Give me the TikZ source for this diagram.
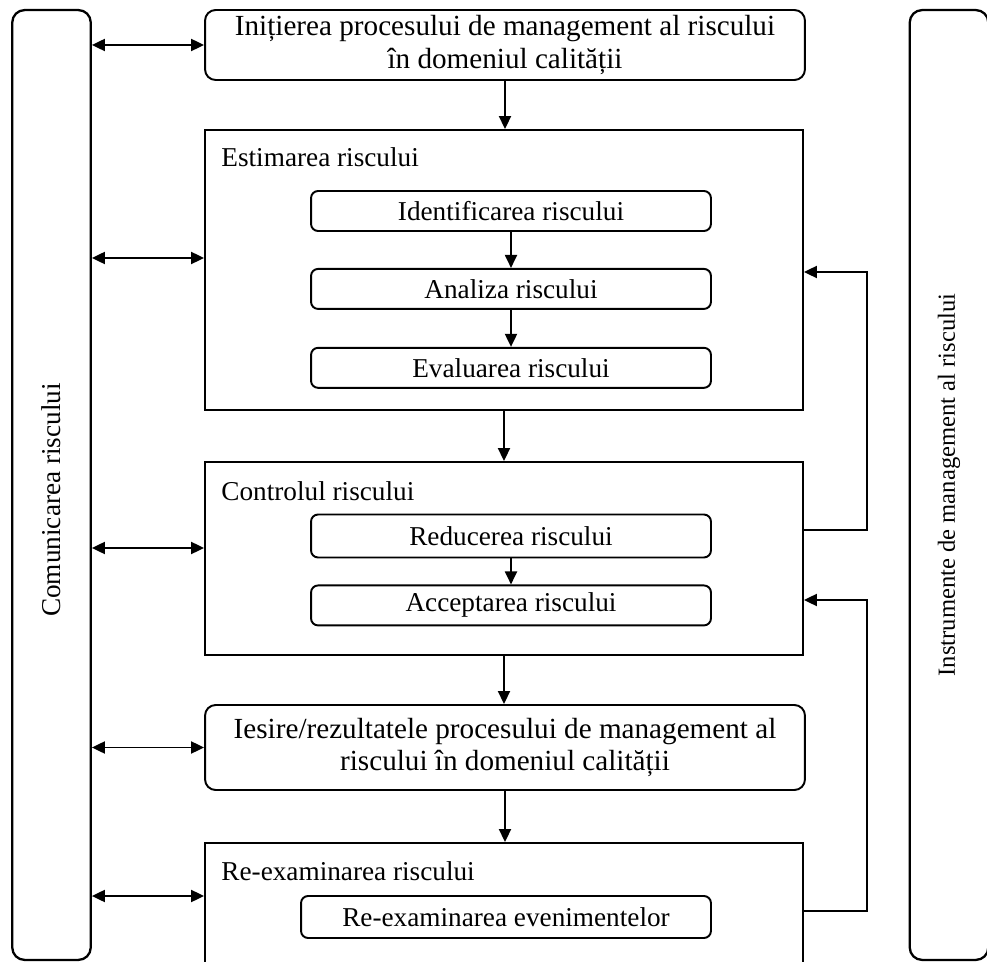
\documentclass[tikz,border=0pt]{standalone}
\usepackage{fontspec}
\setmainfont{Liberation Serif}
\usetikzlibrary{arrows.meta,positioning}

\tikzset{
  sidebar/.style={draw, line width=1.3pt, rounded corners=7pt, minimum width=1.57cm, minimum height=19cm},
  stagebox/.style={draw, line width=1.1pt, rounded corners=6pt, minimum width=12cm, align=center, inner sep=0pt,
    font=\fontsize{16.6}{18.5}\selectfont},
  panel/.style={draw, line width=1.1pt, minimum width=11.96cm},
  stepbox/.style={draw, line width=1.1pt, rounded corners=4pt, minimum width=8cm, minimum height=0.8cm, inner sep=0pt},
  heading/.style={inner sep=0pt, anchor=north west},
  flow/.style={line width=1.1pt, -{Triangle[length=2.6mm, width=2.4mm]}},
  both/.style={line width=1.1pt, {Triangle[length=2.6mm, width=2.4mm]}-{Triangle[length=2.6mm, width=2.4mm]}},
}

\begin{document}
\begin{tikzpicture}[x=0.02cm, y=-0.02cm, font=\fontsize{15.5}{18}\selectfont]
\useasboundingbox (0,0) rectangle (987,962);
\clip (0,0) rectangle (987,962);

% side bars
\node[sidebar] (comm) at (51.5,485) {};
\node[rotate=90] (commlbl) at (comm |- 0,500) {Comunicarea riscului};
\node[sidebar] (tools) at (949,485) {};
\node[rotate=90, font=\fontsize{14}{16}\selectfont] (toolslbl) at (tools) {Instrumente de management al riscului};

% main column
\node[stagebox, minimum height=1.4cm] (init) at (505,45)
  {Inițierea procesului de management al riscului\\ în domeniul calității};

\node[panel, minimum height=5.6cm] (estim) at (504,270) {};
\node[heading, below right=0.36cm and 0.34cm of estim.north west] (estimlbl) {Estimarea riscului};
\node[stepbox] (ident) at (511,211) {Identificarea riscului};
\node[stepbox, below=0.72cm of ident] (anal) {Analiza riscului};
\node[stepbox, below=0.74cm of anal] (eval) {Evaluarea riscului};

\node[panel, minimum height=3.86cm] (ctrl) at (504,558.5) {};
\node[heading, below right=0.4cm and 0.34cm of ctrl.north west] (ctrllbl) {Controlul riscului};
\node[stepbox, minimum height=0.86cm] (reduc) at (511,536) {Reducerea riscului};
\node[stepbox, below=0.52cm of reduc] (accept) {Acceptarea riscului};

\node[stagebox, minimum height=1.7cm] (outp) at (505,747.5)
  {Iesire/rezultatele procesului de management al\\ riscului în domeniul calității};

\node[panel, minimum height=3.14cm] (rexam) at (504,921.5) {};
\node[heading, below right=0.38cm and 0.34cm of rexam.north west] (rexamlbl) {Re-examinarea riscului};
\node[stepbox, minimum width=8.2cm, minimum height=0.84cm] (events) at (506,917) {Re-examinarea evenimentelor};

% flow down the column
\draw[flow] (init.south) -- (init.south |- estim.north);
\draw[flow] (ident) -- (anal);
\draw[flow] (anal) -- (eval);
\draw[flow] (estim.south) -- (estim.south |- ctrl.north);
\draw[flow] (reduc) -- (accept);
\draw[flow] (ctrl.south) -- (ctrl.south |- outp.north);
\draw[flow] (outp.south) -- (outp.south |- rexam.north);

% communication links
\draw[both] (comm.east |- init.west) -- (init.west);
\draw[both] (comm.east |- 0,258) -- (estim.west |- 0,258);
\draw[both] (comm.east |- 0,548) -- (ctrl.west |- 0,548);
\draw[both] (comm.east |- outp.west) -- (outp.west);
\draw[both] (comm.east |- 0,896) -- (rexam.west |- 0,896);

% feedback loops
\draw[flow] (ctrl.east |- 0,530) -- (867,530) |- (estim.east |- 0,272);
\draw[flow] (rexam.east |- 0,911) -- (867,911) |- (ctrl.east |- 0,600);
\end{tikzpicture}
\end{document}
